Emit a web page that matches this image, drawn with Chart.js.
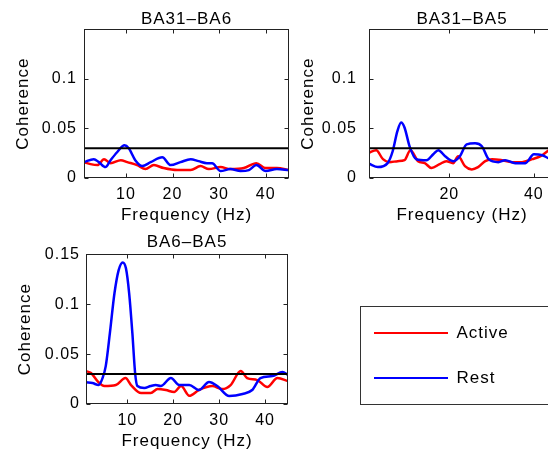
<!DOCTYPE html>
<html>
<head>
<meta charset="UTF-8">
<title>Coherence: Active vs Rest</title>
<script src="https://cdn.jsdelivr.net/npm/chart.js@4.4.1/dist/chart.umd.min.js"></script>
<style>
  body { margin: 0; background: #fff; width: 548px; height: 453px; overflow: hidden; position: relative; }
  canvas.plot { position: absolute; }
  #legendBox { position: absolute; left: 360px; top: 306px; width: 200px; height: 99px; border: 1px solid #333; box-sizing: border-box; }
  #legendBox canvas { position: absolute; left: -15px; top: -12px; }
</style>
</head>
<body>
<canvas id="c1" class="plot" width="300" height="226" style="left:0;top:0"></canvas>
<canvas id="c2" class="plot" width="280" height="226" style="left:285px;top:0"></canvas>
<canvas id="c3" class="plot" width="300" height="230" style="left:0;top:222px"></canvas>
<div id="legendBox"><canvas id="leg" width="215" height="121"></canvas></div>

<script>
// axis settings
const freqRange = [1, 45];
const yTicks = [0, 0.05, 0.1, 0.15];
const yLabelsTop = ['0', '0.05', '0.1', ''];
const yLabelsBottom = ['0', '0.05', '0.1', '0.15'];
const xTicksA = [10, 20, 30, 40];
const xTicksB = [20, 40];
const threshold = 0.03;

// [frequency (Hz), coherence]
const ba31ba6Active = [[1,0.016],[2.4,0.014],[3.9,0.013],[5.3,0.019],[6.7,0.015],[8.9,0.018],[10.3,0.016],
  [12.4,0.013],[14.2,0.009],[16,0.013],[18.1,0.010],[21,0.008],[23.9,0.008],[26,0.012],[27.8,0.009],
  [30.3,0.011],[32.4,0.009],[35.3,0.010],[38,0.015],[40,0.010],[42.4,0.010],[45,0.008]];
const ba31ba6Rest = [[1,0.016],[3.1,0.019],[4.2,0.016],[5.6,0.011],[6.7,0.018],[8.1,0.026],[9.7,0.033],
  [10.6,0.030],[12,0.018],[13.5,0.012],[15.3,0.016],[17.8,0.021],[19.6,0.013],[21.7,0.016],[23.9,0.019],
  [25.6,0.017],[27.4,0.015],[28.5,0.015],[30.3,0.007],[32.4,0.009],[34.6,0.007],[36.4,0.008],[38,0.013],
  [40,0.007],[42.4,0.009],[45,0.008]];

const ba31ba5Active = [[1,0.0255],[2.7,0.028],[4.3,0.019],[5.8,0.016],[7.8,0.017],[9.4,0.018],[10.8,0.028],
  [12.6,0.017],[14.2,0.015],[15.8,0.010],[17.7,0.014],[19.3,0.017],[20.9,0.015],[22.1,0.022],[23.7,0.012],
  [25.3,0.0087],[26.8,0.011],[28.5,0.017],[30.1,0.019],[32.4,0.018],[34.8,0.016],[37.2,0.016],[39.6,0.019],
  [41.6,0.022],[43.2,0.027],[44,0.0295],[45,0.030]];
const ba31ba5Rest = [[1,0.0144],[3.1,0.011],[5.4,0.015],[6.6,0.027],[7.7,0.047],[8.6,0.056],[9.4,0.051],
  [10.6,0.032],[12.2,0.019],[14.6,0.018],[16.2,0.024],[17.4,0.028],[19,0.022],[21,0.017],[22.5,0.022],
  [24.1,0.034],[26.1,0.035],[27.7,0.032],[29.3,0.019],[31.6,0.016],[33.2,0.018],[35.6,0.015],[38,0.015],
  [40,0.024],[42,0.023],[43.5,0.020],[45,0.019]];

const ba6ba5Active = [[1,0.033],[2.1,0.031],[3.5,0.023],[5,0.018],[7.5,0.019],[9.6,0.026],[10.8,0.019],
  [13,0.011],[15.1,0.011],[16.6,0.015],[18.4,0.014],[20.2,0.012],[21.7,0.018],[23.5,0.0083],[25.6,0.014],
  [28.5,0.018],[30.7,0.015],[32.5,0.019],[34.7,0.033],[36.1,0.026],[38.3,0.024],[40.5,0.017],[42.7,0.026],
  [45,0.023]];
const ba6ba5Rest = [[1,0.0217],[2.4,0.021],[3.75,0.019],[4.6,0.026],[5.3,0.038],[6.2,0.071],[7.2,0.111],
  [8.1,0.134],[9,0.142],[9.7,0.136],[10.4,0.111],[11.1,0.071],[11.7,0.031],[12.2,0.018],[13.7,0.016],
  [15.1,0.018],[16.2,0.019],[17.3,0.018],[19.5,0.026],[21.3,0.019],[23.5,0.019],[25.6,0.014],[27.8,0.022],
  [29.6,0.018],[32.2,0.008],[35.1,0.010],[37.2,0.014],[39,0.026],[41.6,0.028],[43.8,0.032],[45,0.029]];

Chart.defaults.font.family = '"Liberation Sans", Arial, sans-serif';
Chart.defaults.color = '#000';

// MATLAB text looks a bit wider than Arial
Chart.register({
  id: 'spacing',
  beforeUpdate(chart) { chart.ctx.letterSpacing = '1px'; },
  beforeDraw(chart) { chart.ctx.letterSpacing = '1px'; }
});

// box around the axes with inward ticks on all four sides
const axesBox = {
  id: 'axesBox',
  afterDatasetsDraw(chart) {
    const {ctx, chartArea: a, scales: {x, y}} = chart;
    const L = Math.round(a.left) + 0.5, R = Math.round(a.right) - 0.5;
    const T = Math.round(a.top) + 0.5, B = Math.round(a.bottom) - 0.5;
    ctx.save();
    ctx.strokeStyle = '#222';
    ctx.lineWidth = 1;
    ctx.beginPath();
    x.ticks.forEach(t => {
      const px = Math.round(x.getPixelForValue(t.value)) + 0.5;
      ctx.moveTo(px, B); ctx.lineTo(px, B - 4);
      ctx.moveTo(px, T); ctx.lineTo(px, T + 4);
    });
    y.ticks.forEach(t => {
      const py = Math.round(y.getPixelForValue(t.value)) + 0.5;
      ctx.moveTo(L, py); ctx.lineTo(L + 4, py);
      ctx.moveTo(R, py); ctx.lineTo(R - 4, py);
    });
    ctx.stroke();
    ctx.strokeRect(L, T, R - L, B - T);
    ctx.restore();
  }
};

function makePlot(id, title, active, rest, xTicks, yLabels, lay) {
  new Chart(document.getElementById(id), {
    type: 'line',
    data: {
      datasets: [
        { label: 'threshold', data: freqRange.map(f => [f, threshold]), borderColor: '#000', borderWidth: 2, order: 0 },
        { label: 'Rest', data: rest, borderColor: '#0000ff', borderWidth: 2.5, order: 1 },
        { label: 'Active', data: active, borderColor: '#ff0000', borderWidth: 2.5, order: 2 }
      ]
    },
    options: {
      responsive: false,
      animation: false,
      events: [],
      layout: { padding: { left: 0, right: lay.right, top: 0, bottom: 0 } },
      elements: { point: { radius: 0 }, line: { cubicInterpolationMode: 'monotone' } },
      plugins: {
        legend: { display: false },
        tooltip: { enabled: false },
        title: {
          display: true, text: title, color: '#000', fullSize: false,
          font: { size: 17, weight: 'normal' },
          padding: { top: lay.titleTop, bottom: lay.titleBottom }
        }
      },
      scales: {
        x: {
          type: 'linear', min: freqRange[0], max: freqRange[1],
          afterBuildTicks: s => { s.ticks = xTicks.map(v => ({ value: v })); },
          afterFit: s => { s.height = 48; },
          grid: { display: false, drawTicks: false },
          border: { display: false },
          ticks: { padding: 7, font: { size: 16 }, color: '#000', maxRotation: 0 },
          title: { display: true, text: 'Frequency (Hz)', font: { size: 17 }, color: '#000', padding: { top: 0, bottom: 0 } }
        },
        y: {
          min: yTicks[0], max: yTicks[yTicks.length - 1],
          afterBuildTicks: s => { s.ticks = yTicks.map(v => ({ value: v })); },
          afterFit: s => { s.width = lay.yWidth; },
          grid: { display: false, drawTicks: false },
          border: { display: false },
          ticks: {
            padding: lay.yPad, font: { size: 16 }, color: '#000',
            callback: (v, i) => yLabels[i]
          },
          title: { display: true, text: 'Coherence', font: { size: 17 }, color: '#000', padding: { top: lay.yTitle, bottom: 0 } }
        }
      }
    },
    plugins: [axesBox]
  });
}

makePlot('c1', 'BA31\u2013BA6', ba31ba6Active, ba31ba6Rest, xTicksA, yLabelsTop,
  { right: 11, titleTop: 9, titleBottom: 0, yWidth: 84, yPad: 7, yTitle: 13 });
makePlot('c2', 'BA31\u2013BA5', ba31ba5Active, ba31ba5Rest, xTicksB, yLabelsTop,
  { right: 10, titleTop: 9, titleBottom: 0, yWidth: 84, yPad: 12, yTitle: 13 });
makePlot('c3', 'BA6\u2013BA5', ba6ba5Active, ba6ba5Rest, xTicksA, yLabelsBottom,
  { right: 12, titleTop: 10, titleBottom: 2, yWidth: 86, yPad: 6, yTitle: 15 });

// legend in its own boxed panel
new Chart(document.getElementById('leg'), {
  type: 'line',
  data: {
    datasets: [
      { label: 'Active', data: [], borderColor: '#ff0000', backgroundColor: '#ff0000', borderWidth: 2, pointStyle: 'line' },
      { label: 'Rest', data: [], borderColor: '#0000ff', backgroundColor: '#0000ff', borderWidth: 2, pointStyle: 'line' }
    ]
  },
  options: {
    responsive: false,
    animation: false,
    events: [],
    scales: { x: { display: false }, y: { display: false } },
    plugins: {
      tooltip: { enabled: false },
      legend: {
        position: 'left',
        maxWidth: 300,
        labels: {
          usePointStyle: true, pointStyle: 'line', pointStyleWidth: 74,
          padding: 28, color: '#000', font: { size: 17 }
        }
      }
    }
  }
});
</script>
</body>
</html>
